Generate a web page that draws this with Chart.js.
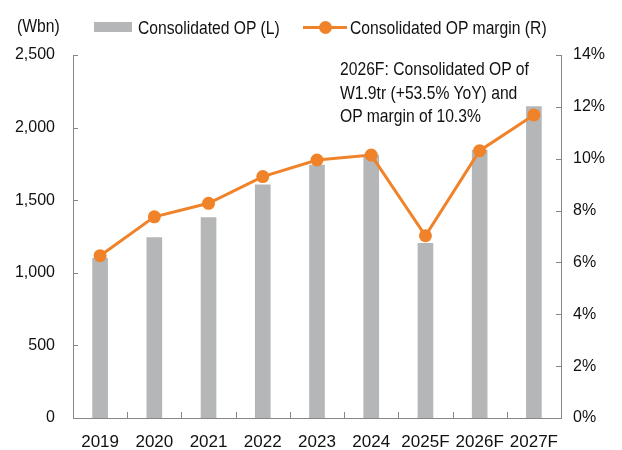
<!DOCTYPE html>
<html>
<head>
<meta charset="utf-8">
<script src="https://cdn.jsdelivr.net/npm/chart.js@4"></script>
<style>
  html, body { margin: 0; padding: 0; background: #fff; }
  body { width: 622px; height: 450px; position: relative; overflow: hidden;
         font-family: 'Liberation Sans', Arial, sans-serif; color: #111; }
  #wrap { position: absolute; left: 0; top: 0; width: 622px; height: 450px; }
  /* the source uses a narrow face; squeeze Liberation Sans to match */
  .txt { position: absolute; font-size: 19px; line-height: 19px; white-space: nowrap;
         transform: scaleX(0.825); transform-origin: 0 0; }
  .box { position: absolute; background: #b5b6b8; }
  .ln  { position: absolute; background: #f0832a; height: 3px; }
  .dot { position: absolute; background: #f0832a; border-radius: 50%; width: 13px; height: 13px; }
  #note { left: 340px; top: 57px; line-height: 23.5px; }
</style>
</head>
<body>
<div id="wrap"><canvas id="c" width="622" height="450"></canvas></div>

<!-- legend -->
<div class="txt" style="left:17px;top:16px;">(Wbn)</div>
<div class="box" style="left:94px;top:22px;width:38px;height:10px;"></div>
<div class="txt" style="left:138px;top:18px;">Consolidated OP (L)</div>
<div class="ln" style="left:303px;top:26px;width:44px;"></div>
<div class="dot" style="left:319px;top:21px;"></div>
<div class="txt" style="left:350px;top:18px;">Consolidated OP margin (R)</div>

<div id="note" class="txt">2026F: Consolidated OP of<br>W1.9tr (+53.5% YoY) and<br>OP margin of 10.3%</div>

<script>
  /* ── data ── */
  const years = ['2019', '2020', '2021', '2022', '2023', '2024', '2025F', '2026F', '2027F'];
  const opValues = [1100, 1242, 1380, 1605, 1742, 1811, 1203, 1846, 2144];      // Wbn (L)
  const marginValues = [6.26, 7.76, 8.28, 9.31, 9.95, 10.14, 7.03, 10.31, 11.69]; // % (R)

  const FONT = { family: "'Liberation Sans', Arial", size: 16 };
  const AXIS = '#868686';
  const GRAY = '#b5b6b8';
  const ORANGE = '#f0832a';

  // short inward tick marks on all three axes
  const inwardTicks = {
    id: 'inwardTicks',
    afterDraw: function (chart) {
      const ctx = chart.ctx;
      const a = chart.chartArea;
      ctx.save();
      ctx.strokeStyle = AXIS;
      ctx.lineWidth = 1;
      ctx.beginPath();
      const yl = chart.scales.y;
      yl.ticks.forEach(function (t) {
        const y = Math.round(yl.getPixelForValue(t.value)) + 0.5;
        ctx.moveTo(a.left, y); ctx.lineTo(a.left + 5, y);
      });
      const yr = chart.scales.y1;
      yr.ticks.forEach(function (t) {
        const y = Math.round(yr.getPixelForValue(t.value)) + 0.5;
        ctx.moveTo(a.right, y); ctx.lineTo(a.right - 5, y);
      });
      const x = chart.scales.x;
      for (let i = 1; i < years.length; i++) {
        const px = Math.round((x.getPixelForValue(i - 1) + x.getPixelForValue(i)) / 2) + 0.5;
        ctx.moveTo(px, a.bottom); ctx.lineTo(px, a.bottom - 6);
      }
      ctx.stroke();
      ctx.restore();
    }
  };

  new Chart(document.getElementById('c').getContext('2d'), {
    data: {
      labels: years,
      datasets: [
        { type: 'line', label: 'Consolidated OP margin (R)', data: marginValues, yAxisID: 'y1', order: 0,
          borderColor: ORANGE, backgroundColor: ORANGE, borderWidth: 3,
          pointRadius: 6.5, pointBorderWidth: 0, pointBackgroundColor: ORANGE, tension: 0 },
        { type: 'bar', label: 'Consolidated OP (L)', data: opValues, yAxisID: 'y', order: 1,
          backgroundColor: GRAY, barThickness: 15 }
      ]
    },
    options: {
      responsive: false,
      animation: false,
      layout: { padding: { top: 55, left: 0, right: 0, bottom: 0 } },
      plugins: { legend: { display: false }, tooltip: { enabled: false } },
      scales: {
        x: {
          offset: true,
          grid: { display: false, drawTicks: false },
          border: { display: true, color: AXIS, width: 1 },
          ticks: { color: '#111', font: { family: FONT.family, size: 17 }, padding: 14, maxRotation: 0, autoSkip: false },
          afterFit: function (s) { s.height = 32; }
        },
        y: {
          position: 'left', min: 0, max: 2500,
          grid: { display: false, drawTicks: false },
          border: { display: true, color: AXIS, width: 1 },
          ticks: { stepSize: 500, color: '#111', font: FONT, padding: 18,
                   callback: function (v) { return v.toLocaleString('en-US'); } },
          afterFit: function (s) { s.width = 73; }
        },
        y1: {
          position: 'right', min: 0, max: 14,
          grid: { display: false, drawTicks: false },
          border: { display: true, color: AXIS, width: 1 },
          ticks: { stepSize: 2, color: '#111', font: FONT, padding: 12,
                   callback: function (v) { return v + '%'; } },
          afterFit: function (s) { s.width = 61; }
        }
      }
    },
    plugins: [inwardTicks]
  });
</script>
</body>
</html>
